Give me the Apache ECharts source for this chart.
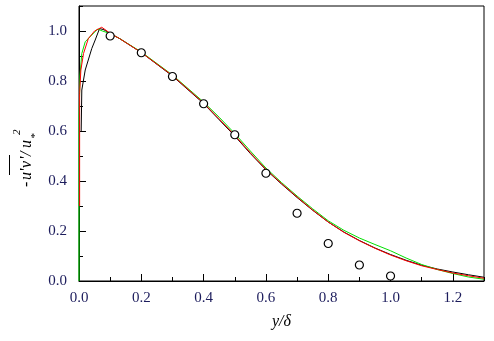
<!DOCTYPE html>
<html>
<head>
<meta charset="utf-8">
<script src="https://cdn.jsdelivr.net/npm/echarts@6/dist/echarts.min.js"></script>
<style>html,body{margin:0;padding:0;background:#fff;}#c{width:494px;height:341px;}</style>
</head>
<body>
<div id="c"></div>
<script>
// Data
const xTickLabels = ['0.0','0.2','0.4','0.6','0.8','1.0','1.2'];
const yTickLabels = ['0.0','0.2','0.4','0.6','0.8','1.0'];
const expX = [0.1,0.2,0.3,0.4,0.5,0.6,0.7,0.8,0.9,1.0];
const expY = [0.98,0.913,0.818,0.709,0.585,0.431,0.271,0.15,0.064,0.02];
const blackX = [0.007,0.009,0.02,0.041,0.052,0.066,0.08,0.1,0.13,0.2,0.3,0.4,0.45,0.5,0.55,0.6,0.65,0.7,0.75,0.8,0.85,0.9,0.95,1.0,1.05,1.1,1.15,1.2,1.25,1.3];
const blackY = [0.6,0.764,0.844,0.93,0.964,1.01,1.005,0.99,0.97,0.914,0.82,0.71,0.645,0.58,0.51,0.445,0.388,0.334,0.283,0.236,0.196,0.162,0.132,0.106,0.083,0.063,0.048,0.036,0.025,0.015];
const redX = [0.002,0.002,0.006,0.0145,0.03,0.05,0.073,0.09,0.1,0.13,0.2,0.3,0.4,0.45,0.5,0.55,0.6,0.65,0.7,0.75,0.8,0.85,0.9,0.95,1.0,1.05,1.1,1.15,1.2,1.25,1.3];
const redY = [0.3,0.75,0.844,0.91,0.97,1.0,1.015,1.0,0.99,0.97,0.914,0.822,0.712,0.648,0.583,0.513,0.447,0.39,0.336,0.284,0.236,0.195,0.161,0.131,0.104,0.081,0.061,0.046,0.032,0.021,0.011];
const greenX = [0,0,0.002,0.003,0.009,0.02,0.041,0.06,0.075,0.1,0.13,0.2,0.3,0.4,0.45,0.5,0.55,0.6,0.65,0.7,0.75,0.8,0.85,0.9,0.95,1.0,1.05,1.1,1.15,1.2,1.25,1.3];
const greenY = [0,0.66,0.75,0.82,0.91,0.957,0.984,1.008,1.0,0.99,0.97,0.916,0.824,0.716,0.655,0.59,0.52,0.452,0.394,0.34,0.289,0.241,0.203,0.172,0.146,0.121,0.092,0.066,0.046,0.03,0.016,0.007];

const zip = (a, b) => a.map((v, i) => [v, b[i]]);
const serif = 'Liberation Serif';
const labelColor = '#1c1c5c';

const chart = echarts.init(document.getElementById('c'), null, {renderer: 'canvas'});
const baseX = {
  type: 'value', min: 0, max: 1.3, position: 'bottom',
  splitLine: {show: false}
};
const baseY = {
  type: 'value', min: 0, max: 1.1, position: 'left',
  splitLine: {show: false}
};
chart.setOption({
  animation: false,
  backgroundColor: '#fff',
  grid: {left: 79, right: 10, top: 6, bottom: 60, show: true, borderColor: '#000', borderWidth: 1},
  xAxis: [
    Object.assign({}, baseX, {
      interval: 0.2,
      axisLine: {show: true, onZero: false, lineStyle: {color: '#000', width: 1}},
      axisTick: {show: true, inside: true, length: 7, lineStyle: {color: '#000'}},
      axisLabel: {show: true, showMaxLabel: false, margin: 10, color: labelColor, fontFamily: serif, fontSize: 15,
        formatter: v => { const i = Math.round(v / 0.2); return Math.abs(v - i * 0.2) < 1e-6 ? (xTickLabels[i] || '') : ''; }},
      name: 'y/δ', nameLocation: 'middle', nameGap: 33,
      nameTextStyle: {fontFamily: serif, fontStyle: 'italic', fontSize: 16, color: '#000'}
    }),
    Object.assign({}, baseX, {
      interval: 0.1,
      axisLine: {show: false, onZero: false},
      axisTick: {show: true, inside: true, length: 4, lineStyle: {color: '#000'}},
      axisLabel: {show: false}
    })
  ],
  yAxis: [
    Object.assign({}, baseY, {
      interval: 0.2,
      axisLine: {show: true, onZero: false, lineStyle: {color: '#000', width: 1}},
      axisTick: {show: true, inside: true, length: 7, lineStyle: {color: '#000'}},
      axisLabel: {show: true, showMaxLabel: false, margin: 12, color: labelColor, fontFamily: serif, fontSize: 15,
        formatter: v => { const i = Math.round(v / 0.2); return Math.abs(v - i * 0.2) < 1e-6 ? (yTickLabels[i] || '') : ''; }}
    }),
    Object.assign({}, baseY, {
      interval: 0.1,
      axisLine: {show: false, onZero: false},
      axisTick: {show: true, inside: true, length: 4, lineStyle: {color: '#000'}},
      axisLabel: {show: false}
    })
  ],
  series: [
    {type: 'line', data: zip(blackX, blackY), showSymbol: false, symbol: 'none', lineStyle: {color: '#000', width: 1}, z: 2},
    {type: 'line', data: zip(greenX, greenY), showSymbol: false, symbol: 'none', lineStyle: {color: '#00e000', width: 1}, z: 3},
    {type: 'line', data: zip(redX, redY), showSymbol: false, symbol: 'none', lineStyle: {color: '#ff0000', width: 1}, z: 4},
    {type: 'scatter', data: zip(expX, expY), symbol: 'circle', symbolSize: 8,
      itemStyle: {color: '#fff', borderColor: '#000', borderWidth: 1.2, opacity: 1}, z: 5}
  ],
  graphic: [
    {
      type: 'group', x: 35, y: 187, rotation: Math.PI / 2,
      children: [
        {type: 'text', style: {text: '-', x: 0, y: 0, font: 'italic 16px ' + serif, fill: '#000', verticalAlign: 'bottom'}},
        {type: 'text', style: {text: 'u', x: 7, y: 0, font: 'italic 16px ' + serif, fill: '#000', verticalAlign: 'bottom'}},
        {type: 'text', style: {text: "'", x: 15, y: 0, font: 'italic 16px ' + serif, fill: '#000', verticalAlign: 'bottom'}},
        {type: 'text', style: {text: 'v', x: 19, y: 0, font: 'italic 16px ' + serif, fill: '#000', verticalAlign: 'bottom'}},
        {type: 'text', style: {text: "'", x: 27, y: 0, font: 'italic 16px ' + serif, fill: '#000', verticalAlign: 'bottom'}},
        {type: 'text', style: {text: '/', x: 31, y: 0, font: 'italic 16px ' + serif, fill: '#000', verticalAlign: 'bottom'}},
        {type: 'text', style: {text: 'u', x: 39, y: 0, font: 'italic 16px ' + serif, fill: '#000', verticalAlign: 'bottom'}},
        {type: 'text', style: {text: '*', x: 48, y: 6, font: 'italic 11px ' + serif, fill: '#000', verticalAlign: 'bottom'}},
        {type: 'text', style: {text: '2', x: 52, y: -12, font: 'italic 11px ' + serif, fill: '#000', verticalAlign: 'bottom'}},
        {type: 'rect', shape: {x: 12, y: -26, width: 20, height: 1}, style: {fill: '#000'}}
      ]
    }
  ]
});
</script>
</body>
</html>
